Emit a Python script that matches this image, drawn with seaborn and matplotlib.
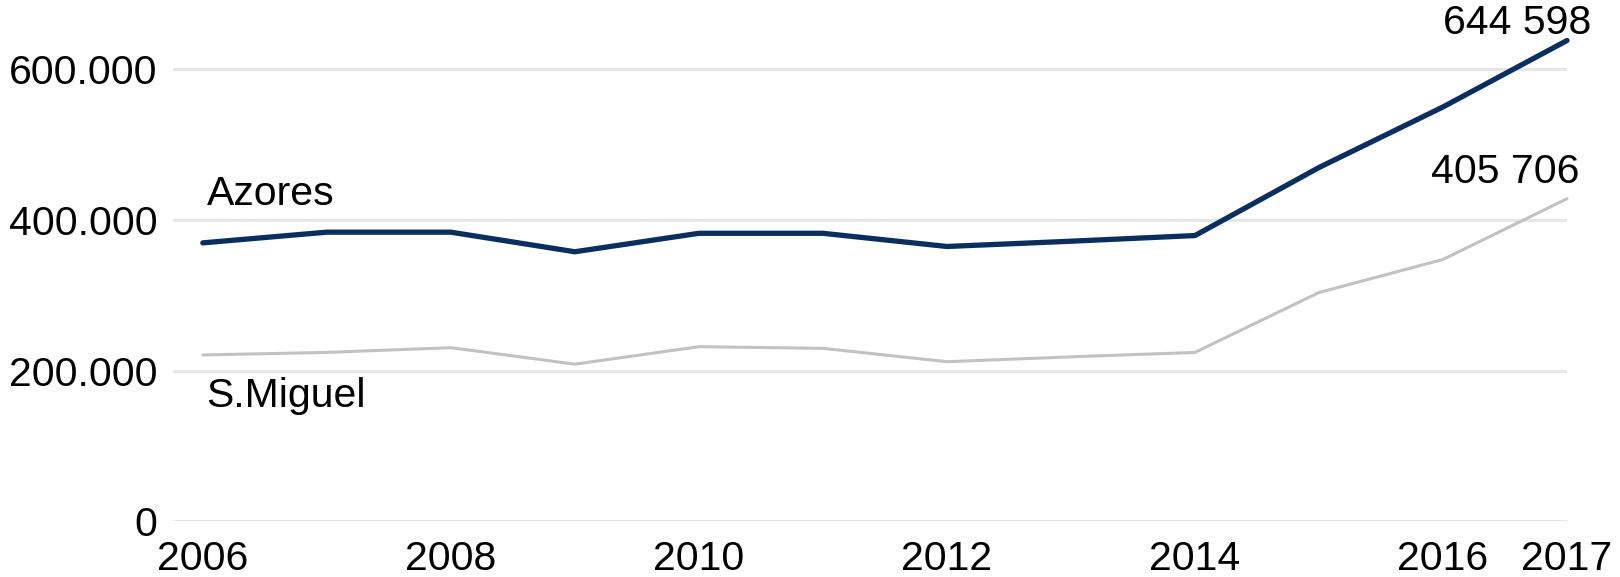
import numpy as np
import pandas as pd
import matplotlib
matplotlib.use("Agg")
import matplotlib.pyplot as plt
import matplotlib.ticker as mticker
import seaborn as sns

# Дані
years = [2006, 2007, 2008, 2009, 2010, 2011, 2012, 2013, 2014, 2015, 2016, 2017]
azores = [369800, 384000, 384000, 358000, 382500, 382500, 365000, 372000, 379500, 469800, 550200, 638400]
s_miguel = [221000, 224400, 230700, 208800, 232000, 229800, 212100, 218500, 224400, 303900, 347800, 428400]

x_ticks = [2006, 2008, 2010, 2012, 2014, 2016, 2017]
y_ticks = [0, 200000, 400000, 600000]
end_labels = ["644 598", "405 706"]

df = pd.DataFrame({"year": years, "Azores": azores, "S.Miguel": s_miguel})

sns.set_style("white")
plt.rcParams["font.family"] = ["Liberation Sans", "DejaVu Sans"]
plt.rcParams["text.color"] = "black"

FS = 29.5
fig = plt.figure(figsize=(16.2, 5.77), dpi=100)
ax = fig.add_axes([0.1068, 0.0962, 0.8605, 0.901])

ax.set_axisbelow(True)
ax.grid(True, axis="y", color="#e6e6e6", linewidth=2.2)
ax.grid(False, axis="x")

sns.lineplot(data=df, x="year", y="S.Miguel", ax=ax, color="#c2c2c2",
             linewidth=2.2, clip_on=False)
sns.lineplot(data=df, x="year", y="Azores", ax=ax, color="#0b2e5e",
             linewidth=3.8, clip_on=False)

ax.set_xlim(2005.76, 2017)
ax.set_ylim(0, 690000)
ax.set_xticks(x_ticks)
ax.set_yticks(y_ticks)
ax.yaxis.set_major_formatter(mticker.FuncFormatter(
    lambda v, p: "0" if v == 0 else f"{int(v):,}".replace(",", ".")))
ax.tick_params(axis="both", labelsize=FS, length=0, colors="black")
ax.tick_params(axis="y", pad=11)
ax.tick_params(axis="x", pad=13)
ax.set_xlabel("")
ax.set_ylabel("")
for s in ax.spines.values():
    s.set_visible(False)

# Підписи рядів і кінцевих значень
ax.text(2006.03, 435300, "Azores", fontsize=FS, va="center", ha="left", color="black")
ax.text(2006.03, 166500, "S.Miguel", fontsize=FS, va="center", ha="left", color="black")
ax.text(2016.6, 661600, end_labels[0], fontsize=FS, va="center", ha="center", color="black")
ax.text(2016.5, 463800, end_labels[1], fontsize=FS, va="center", ha="center", color="black")

fig.savefig("out.png", dpi=100)
